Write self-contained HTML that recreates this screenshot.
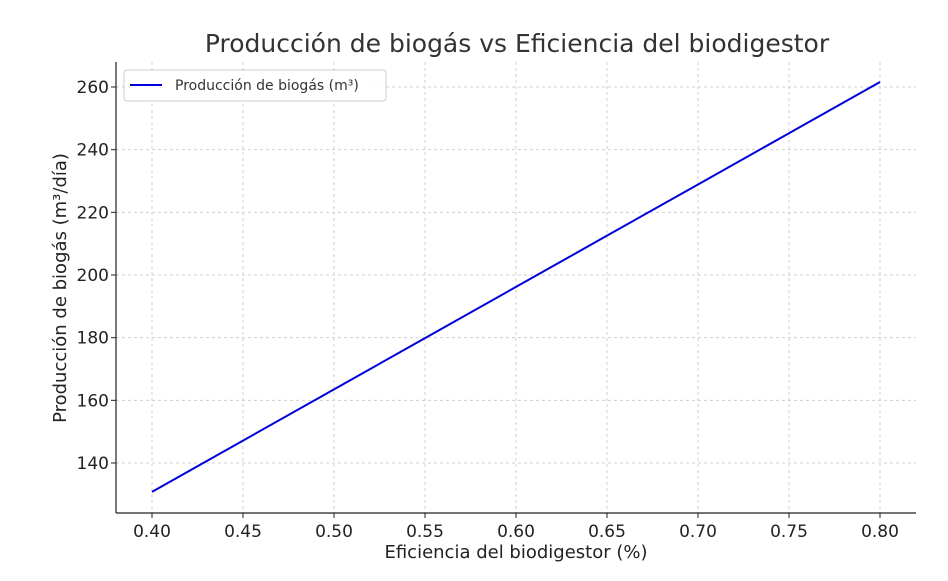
<!DOCTYPE html>
<html><head><meta charset="utf-8"><style>
body{margin:0;background:#fff;}
svg text{font-family:"DejaVu Sans","Liberation Sans",sans-serif;}
</style></head><body>
<svg id="chart" width="948" height="576" xmlns="http://www.w3.org/2000/svg">
<g id="grid"></g>
<g id="axes"></g>
<g id="series"></g>
<text x="517" y="52" text-anchor="middle" font-size="25" fill="#333">Producción de biogás vs Eficiencia del biodigestor</text>
<text x="516" y="558" text-anchor="middle" font-size="18" fill="#222">Eficiencia del biodigestor (%)</text>
<text transform="translate(66,288) rotate(-90)" text-anchor="middle" font-size="18" fill="#222">Producción de biogás (m³/día)</text>
<g>
<rect x="124" y="70" width="262" height="31" rx="3" fill="#fff" fill-opacity="0.85" stroke="#ccc"/>
<line x1="130" y1="85" x2="162" y2="85" stroke="#0000dd" stroke-width="2"/>
<text x="175" y="90" font-size="14" fill="#333">Producción de biogás (m³)</text>
</g>
</svg>
<script>
const xValues=[0.40,0.45,0.50,0.55,0.60,0.65,0.70,0.75,0.80];
const yValues=[130.8,147.15,163.5,179.85,196.2,212.55,228.9,245.25,261.6];
const xTicks=[0.40,0.45,0.50,0.55,0.60,0.65,0.70,0.75,0.80];
const yTicks=[140,160,180,200,220,240,260];
const NS="http://www.w3.org/2000/svg";
const L=116,R=916,T=62,B=513;
function xs(v){return 152+(v-0.40)*(880-152)/0.40;}
function ys(v){return 463-(v-140)*(463-87)/120;}
function mk(tag,attrs,parent){const e=document.createElementNS(NS,tag);for(const k in attrs)e.setAttribute(k,attrs[k]);parent.appendChild(e);return e;}
const grid=document.getElementById('grid'),axes=document.getElementById('axes'),series=document.getElementById('series');
xTicks.forEach(t=>{const x=xs(t);
const g=mk('line',{x1:x,x2:x,y1:T,y2:B,stroke:'#d0d0d0','stroke-dasharray':'3,3'},grid);


const tk=mk('line',{x1:x,x2:x,y1:B,y2:B+5,stroke:'#222'},axes);


const tx=mk('text',{x:x,y:B+24,'text-anchor':'middle','font-size':'17',fill:'#222'},axes);tx.textContent=t.toFixed(2);

});
yTicks.forEach(t=>{const y=ys(t);
const g=mk('line',{x1:L,x2:R,y1:y,y2:y,stroke:'#d0d0d0','stroke-dasharray':'3,3'},grid);


const tk=mk('line',{x1:L-5,x2:L,y1:y,y2:y,stroke:'#222'},axes);


const tx=mk('text',{x:L-7,y:y+6,'text-anchor':'end','font-size':'17',fill:'#222'},axes);tx.textContent=t;

});
const ax1=mk('line',{x1:L,x2:L,y1:T,y2:B,stroke:'#222','stroke-width':1.2},axes);


const ax2=mk('line',{x1:L,x2:R,y1:B,y2:B,stroke:'#222','stroke-width':1.2},axes);


const pl=mk('polyline',{points:xValues.map((x,i)=>xs(x)+','+ys(yValues[i])).join(' '),fill:'none',stroke:'#0000dd','stroke-width':2},series);


</script>
</body></html>
